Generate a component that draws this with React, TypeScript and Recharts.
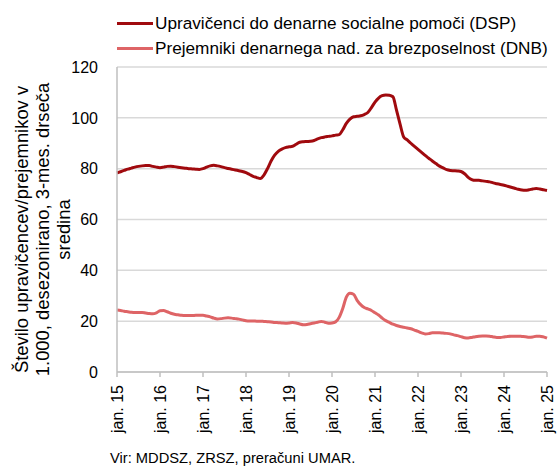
import { CartesianGrid, Line, LineChart, XAxis, YAxis } from "recharts";

const monthNames = ["jan.", "feb.", "mar.", "apr.", "maj", "jun.", "jul.", "avg.", "sep.", "okt.", "nov.", "dec."];
const years = [15, 16, 17, 18, 19, 20, 21, 22, 23, 24, 25];

const tickLabels = years.map((y) => `jan. ${y}`);

// Upravičenci do DSP, v 1.000, jan. 2015 – jan. 2025
const dspValues = [
  78.3, 78.8, 79.3, 79.8, 80.2, 80.6, 80.9, 81.1, 81.2, 81.2, 80.9, 80.6,
  80.4, 80.6, 80.9, 81.0, 80.8, 80.6, 80.4, 80.2, 80.0, 79.9, 79.8, 79.7,
  80.0, 80.6, 81.1, 81.3, 81.1, 80.8, 80.4, 80.1, 79.8, 79.5, 79.2, 78.9,
  78.4, 77.7, 77.0, 76.5, 76.1, 77.5, 80.0, 83.0, 85.3, 86.8, 87.7, 88.3,
  88.6, 88.8, 89.6, 90.4, 90.6, 90.7, 90.8, 91.1, 91.7, 92.2, 92.5, 92.7,
  92.9, 93.2, 93.4, 95.3, 97.8, 99.5, 100.4, 100.6, 100.8, 101.3, 102.1, 104.0,
  106.2, 107.8, 108.7, 109.0, 108.9, 108.3, 103.0, 97.5, 92.5, 91.3, 90.0, 88.8,
  87.6, 86.4, 85.2, 84.1, 83.0, 82.0, 81.0, 80.3, 79.6, 79.3, 79.2, 79.1,
  78.9, 78.0, 76.6, 75.7, 75.4, 75.4, 75.2, 75.0, 74.8, 74.4, 74.1, 73.8,
  73.5, 73.1, 72.7, 72.3, 71.9, 71.6, 71.5, 71.7, 72.0, 72.2, 72.0, 71.7,
  71.4,
];

// Prejemniki DNB, v 1.000, jan. 2015 – jan. 2025
const dnbValues = [
  24.4, 24.2, 23.9, 23.7, 23.5, 23.4, 23.4, 23.4, 23.2, 23.0, 22.9, 23.3,
  24.1, 24.2, 23.7, 23.1, 22.7, 22.5, 22.3, 22.2, 22.2, 22.2, 22.3, 22.3,
  22.3, 22.0, 21.7, 21.2, 20.9, 21.0, 21.2, 21.3, 21.2, 21.0, 20.8, 20.5,
  20.2, 20.1, 20.1, 20.0, 20.0, 19.9, 19.8, 19.7, 19.5, 19.4, 19.3, 19.2,
  19.3, 19.5, 19.3, 18.9, 18.6, 18.7, 19.0, 19.3, 19.6, 19.9, 19.6, 19.2,
  19.3, 19.7, 21.5, 25.0, 29.5, 31.0, 30.6, 28.2, 26.5, 25.4, 24.8, 24.2,
  23.3, 22.4, 21.2, 20.2, 19.5, 18.8, 18.3, 17.9, 17.6, 17.3, 17.0, 16.5,
  16.0, 15.4, 15.0, 15.1, 15.4, 15.4, 15.4, 15.3, 15.2, 15.0, 14.6, 14.3,
  13.9, 13.5, 13.4, 13.6, 13.9, 14.1, 14.2, 14.2, 14.1, 13.8, 13.6, 13.6,
  13.8, 14.0, 14.1, 14.1, 14.1, 14.0, 13.9, 13.7, 13.8, 14.1, 14.1, 13.8,
  13.3,
];

const yTicks = [0, 20, 40, 60, 80, 100, 120];

const data = dspValues.map((dsp, i) => ({
  month: `${monthNames[i % 12]} ${years[Math.floor(i / 12)]}`,
  dsp,
  dnb: dnbValues[i],
}));

const DARK = "#A00A0E";
const LIGHT = "#DE6466";
const FONT = "'Liberation Sans', Arial, sans-serif";

function XTick(props: any) {
  const { x, y, payload } = props;
  return (
    <text
      transform={`translate(${x},${y}) rotate(-90)`}
      textAnchor="end"
      dy="0.35em"
      fontSize={16}
      fontFamily={FONT}
      fill="#000"
    >
      {payload.value}
    </text>
  );
}

function YTitle(props: any) {
  const { viewBox } = props;
  const cy = viewBox.y + viewBox.height / 2 + 10;
  return (
    <text
      transform={`translate(43,${cy}) rotate(-90)`}
      textAnchor="middle"
      fontSize={18.4}
      fontFamily={FONT}
      fill="#000"
    >
      <tspan x={0} y={-21} dy="0.35em">
        Število upravičencev/prejemnikov v
      </tspan>
      <tspan x={0} y={0} dy="0.35em">
        1.000, desezonirano, 3-mes. drseča
      </tspan>
      <tspan x={0} y={21} dy="0.35em">
        sredina
      </tspan>
    </text>
  );
}

const legendItems = [
  { label: "Upravičenci do denarne socialne pomoči (DSP)", color: DARK },
  { label: "Prejemniki denarnega nad. za brezposelnost (DNB)", color: LIGHT },
];

export default function App() {
  return (
    <div
      style={{
        position: "absolute",
        left: 0,
        top: 0,
        width: 560,
        height: 467,
        background: "#fff",
      }}
    >
      <div style={{ position: "absolute", left: 117, top: 11 }}>
        {legendItems.map((item) => (
          <div
            key={item.label}
            style={{
              display: "flex",
              alignItems: "center",
              height: 25,
              fontFamily: FONT,
              fontSize: 17.2,
              color: "#000",
              whiteSpace: "nowrap",
            }}
          >
            <span
              style={{
                display: "inline-block",
                width: 36,
                height: 3,
                background: item.color,
                marginRight: 2,
              }}
            />
            {item.label}
          </div>
        ))}
      </div>
      <LineChart
        width={560}
        height={467}
        data={data}
        margin={{ top: 67, right: 13, bottom: 0, left: 0 }}
      >
        <CartesianGrid stroke="#d9d9d9" strokeWidth={1.5} vertical={false} />
        <XAxis
          dataKey="month"
          ticks={tickLabels}
          interval={0}
          height={95}
          tick={<XTick />}
          tickSize={5}
          tickMargin={8}
          tickLine={{ stroke: "#bfbfbf", strokeWidth: 1.5 }}
          axisLine={{ stroke: "#bfbfbf", strokeWidth: 1.5 }}
        />
        <YAxis
          domain={[0, 120]}
          ticks={yTicks}
          width={117}
          tick={{ fill: "#000", fontSize: 16, fontFamily: FONT }}
          tickLine={false}
          tickSize={10}
          tickMargin={9}
          axisLine={{ stroke: "#bfbfbf", strokeWidth: 1.5 }}
          label={{ content: <YTitle /> }}
        />
        <Line
          type="monotone"
          dataKey="dsp"
          stroke={DARK}
          strokeWidth={3}
          dot={false}
          isAnimationActive={false}
        />
        <Line
          type="monotone"
          dataKey="dnb"
          stroke={LIGHT}
          strokeWidth={3}
          dot={false}
          isAnimationActive={false}
        />
      </LineChart>
      <div
        style={{
          position: "absolute",
          left: 110,
          top: 450,
          fontFamily: FONT,
          fontSize: 14.7,
          color: "#000",
          whiteSpace: "nowrap",
        }}
      >
        Vir: MDDSZ, ZRSZ, preračuni UMAR.
      </div>
    </div>
  );
}
